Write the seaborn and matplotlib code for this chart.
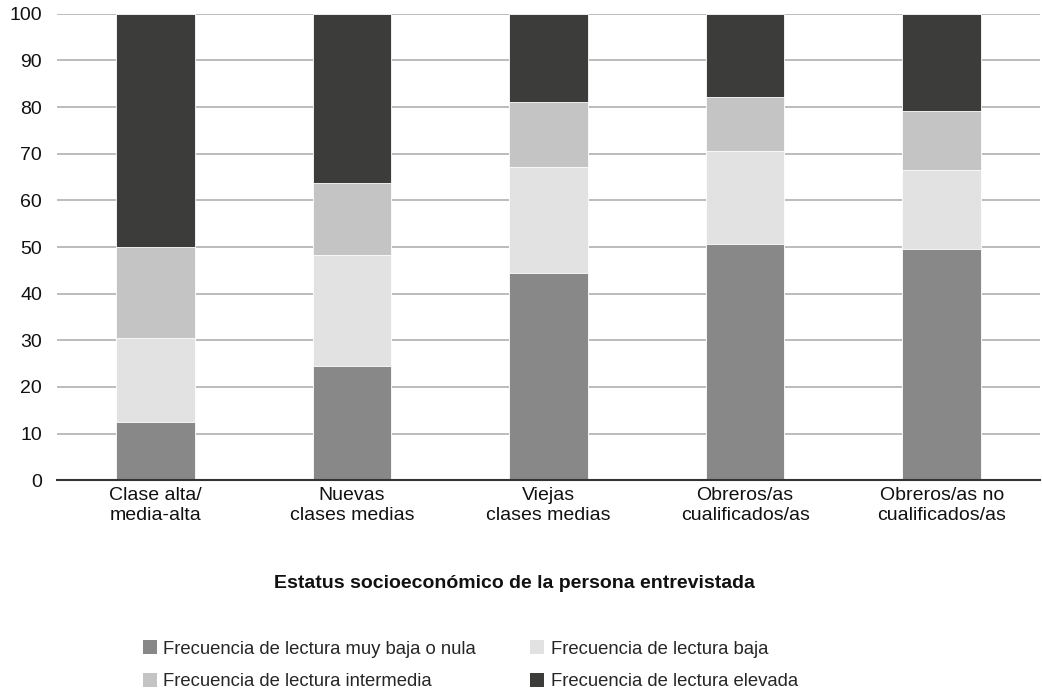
import matplotlib
matplotlib.use("Agg")
import matplotlib.pyplot as plt
from matplotlib.patches import Patch
import pandas as pd
import seaborn as sns

# Valores (porcentajes, cada barra suma 100)
grupos = ["Clase alta/\nmedia-alta", "Nuevas\nclases medias", "Viejas\nclases medias",
          "Obreros/as\ncualificados/as", "Obreros/as no\ncualificados/as"]
muy_baja = [12.4, 24.5, 44.4, 50.6, 49.5]
baja = [18.2, 23.7, 22.7, 20.1, 17.1]
intermedia = [19.5, 15.6, 13.9, 11.5, 12.5]
elevada = [49.9, 36.2, 19.0, 17.8, 20.9]

series = ["Frecuencia de lectura muy baja o nula", "Frecuencia de lectura baja",
          "Frecuencia de lectura intermedia", "Frecuencia de lectura elevada"]
colores = ["#888888", "#e2e2e2", "#c4c4c4", "#3c3c3a"]

df = pd.DataFrame({"grupo": grupos, series[0]: muy_baja, series[1]: baja,
                   series[2]: intermedia, series[3]: elevada})
# acumulados para apilar (se dibuja de arriba hacia abajo)
acum = df[series].cumsum(axis=1)
acum["grupo"] = grupos

sns.set_style("white")
plt.rcParams["font.family"] = ["Liberation Sans", "DejaVu Sans"]

fig, ax = plt.subplots(figsize=(10.42, 6.93), dpi=100)
fig.subplots_adjust(left=0.055, right=0.998, top=0.980, bottom=0.307)

for s, c in reversed(list(zip(series, colores))):
    sns.barplot(data=acum, x="grupo", y=s, color=c, width=0.4, ax=ax,
                edgecolor="white", linewidth=0.6, saturation=1, zorder=3)

ax.set_ylim(0, 100)
ax.set_xlim(-0.5, 4.5)
ax.set_yticks(range(0, 101, 10))
ax.yaxis.grid(True, color="#b0b0b0", linewidth=1.2, zorder=0)
ax.set_axisbelow(True)
for side in ["left", "right", "top"]:
    ax.spines[side].set_visible(False)
ax.spines["bottom"].set_color("#333333")
ax.spines["bottom"].set_linewidth(1.5)
ax.spines["bottom"].set_zorder(4)
ax.tick_params(axis="both", length=0, labelsize=14, colors="#111111", pad=5)
ax.tick_params(axis="y", pad=11)
ax.set_ylabel("")
ax.set_xlabel("Estatus socioeconómico de la persona entrevistada",
              fontsize=14, fontweight="bold", labelpad=37, color="#111111")
ax.xaxis.label.set_x(0.465)

handles = [Patch(facecolor=c, edgecolor="none") for c in colores]
orden = [0, 2, 1, 3]
fig.legend([handles[i] for i in orden], [series[i] for i in orden], ncol=2,
           loc="lower left", bbox_to_anchor=(0.128, -0.009), frameon=False,
           fontsize=13.3, handlelength=0.78, handleheight=0.78, handletextpad=0.35,
           columnspacing=2.9, labelspacing=0.8, borderpad=0.0)

fig.savefig("out.png", dpi=100)
